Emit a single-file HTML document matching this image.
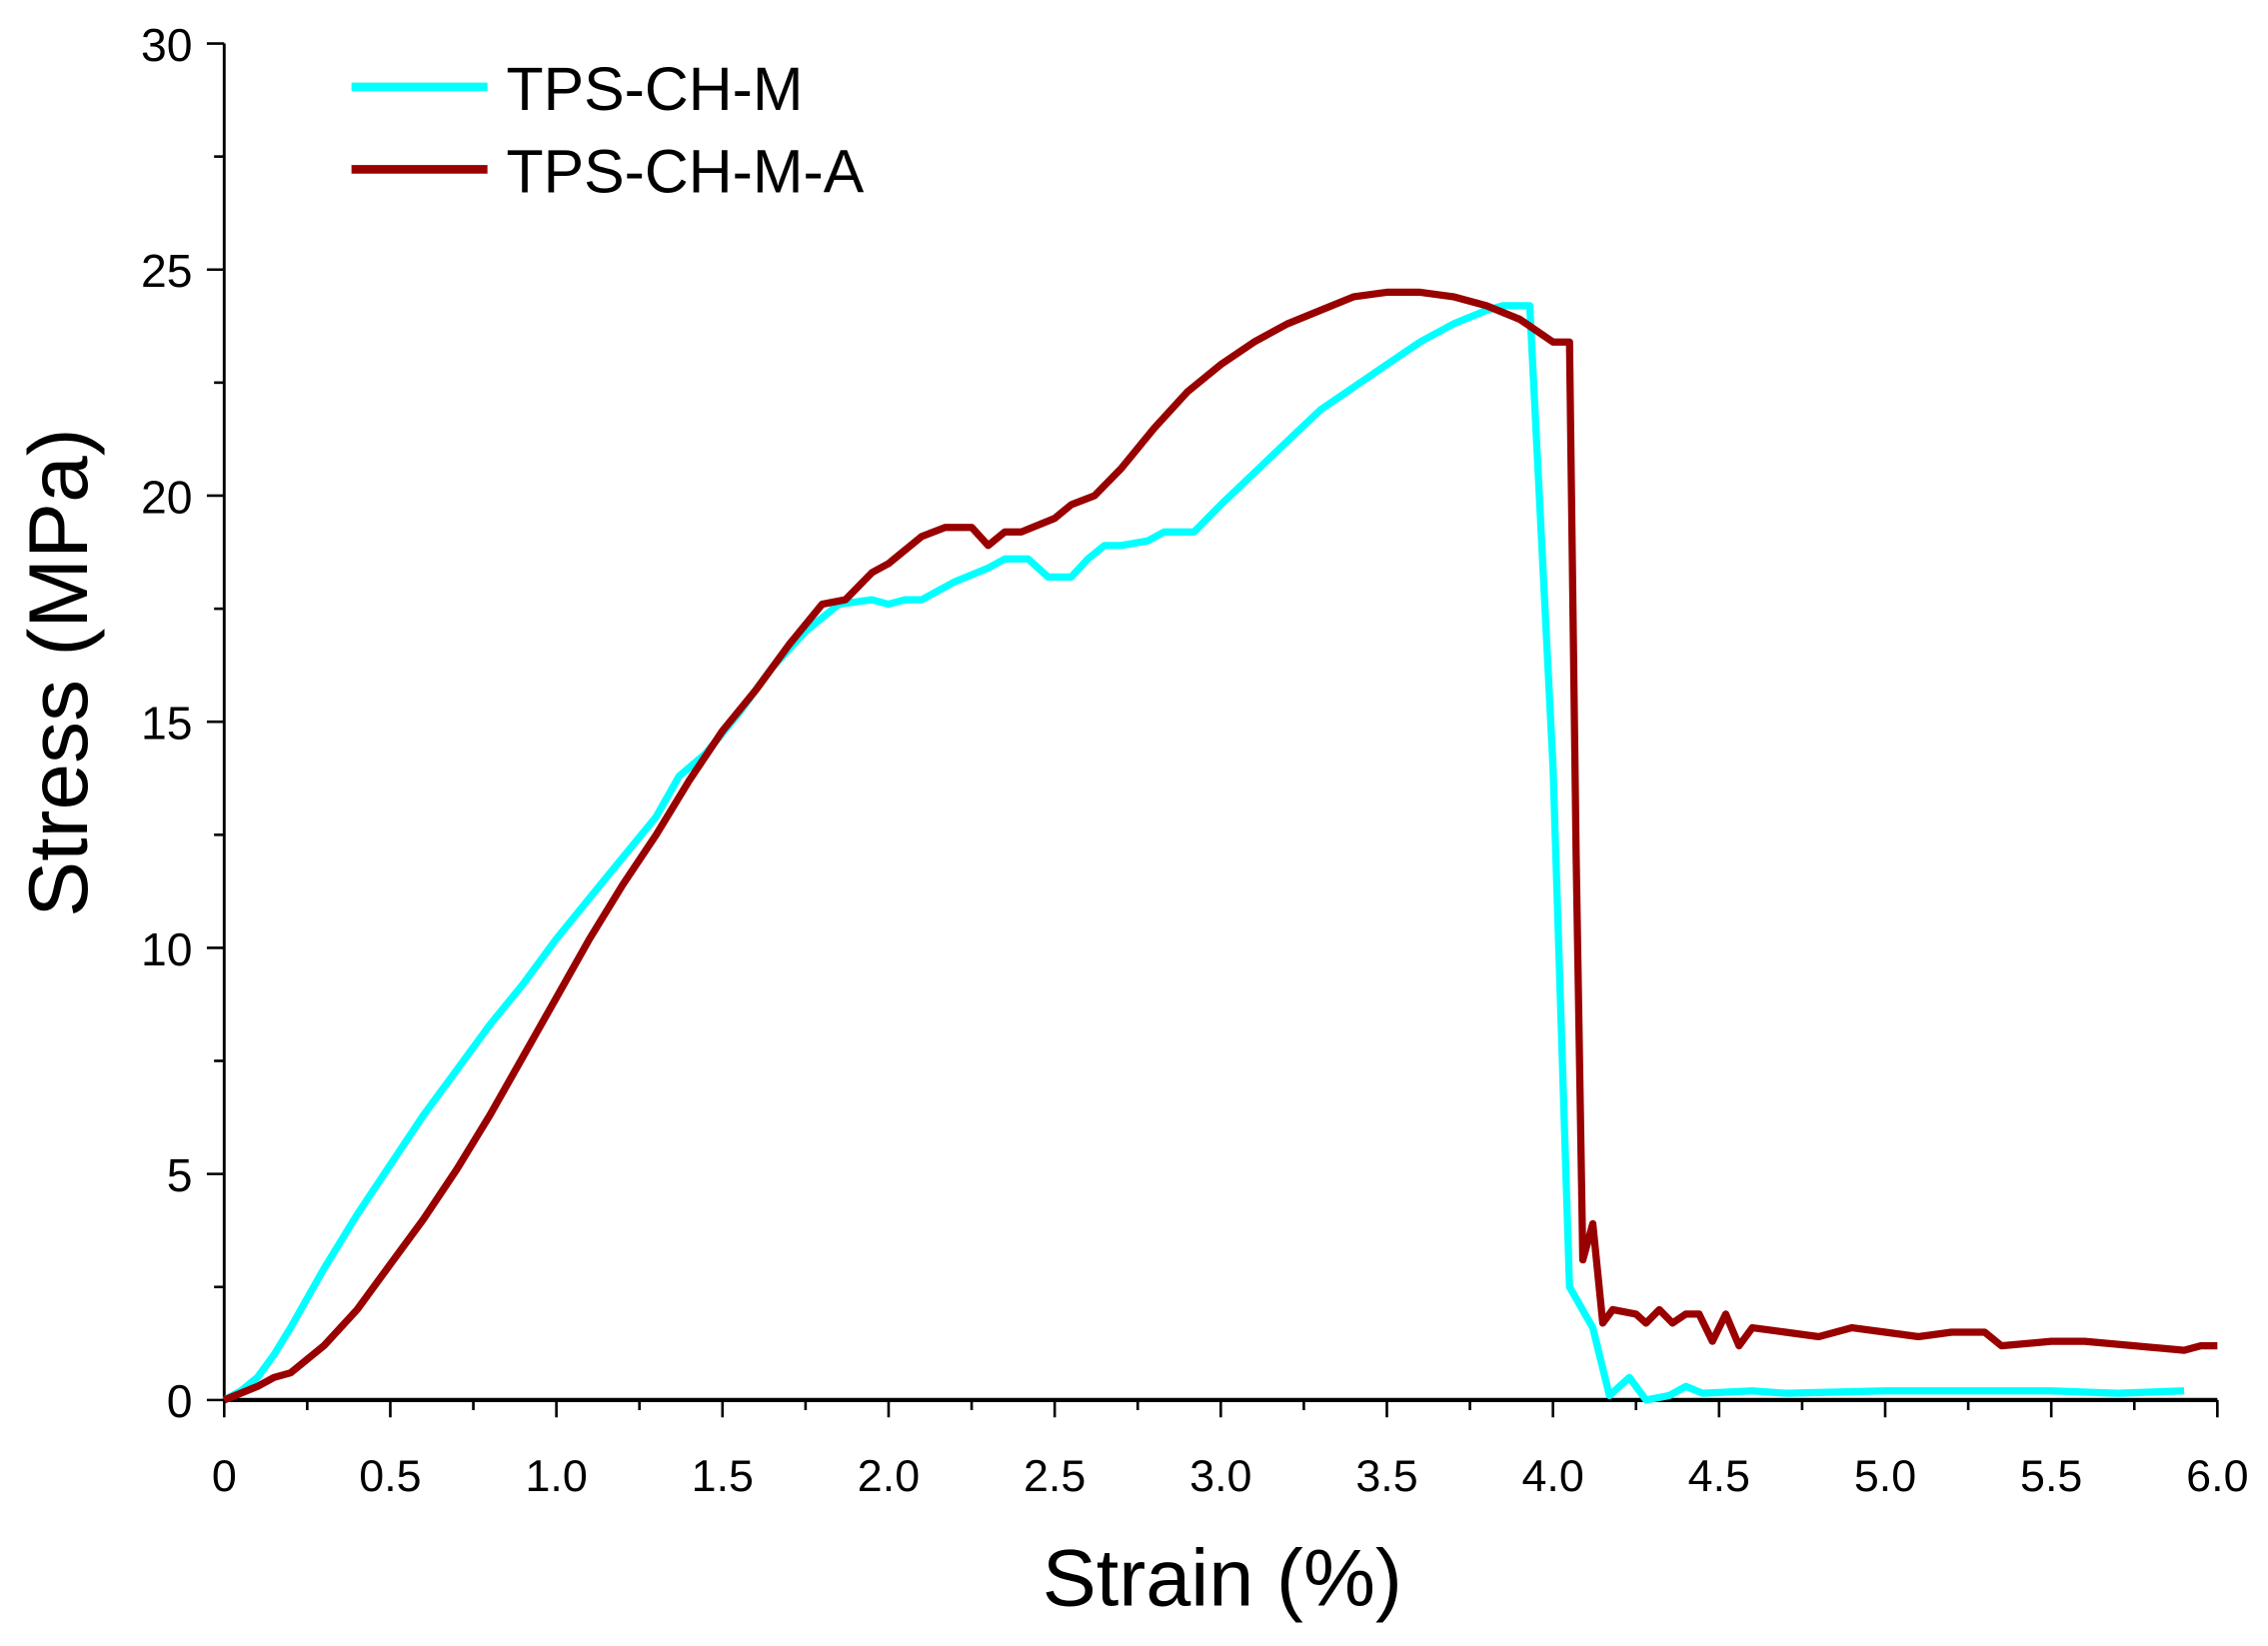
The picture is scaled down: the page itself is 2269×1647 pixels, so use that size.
<!DOCTYPE html>
<html><head><meta charset="utf-8"><style>
html,body{margin:0;padding:0;background:#fff;}
svg{display:block;font-family:"Liberation Sans",Arial,sans-serif;}
</style></head><body>
<svg id="chart" width="2269" height="1647" viewBox="0 0 1568 1138" xmlns="http://www.w3.org/2000/svg">
<g id="axes"></g>
<g id="series"></g>
<g>
  <line x1="243" y1="60" x2="337" y2="60" stroke="#00ffff" stroke-width="6"/>
  <text x="350" y="76" font-size="42">TPS-CH-M</text>
  <line x1="243" y1="117" x2="337" y2="117" stroke="#990000" stroke-width="6"/>
  <text x="350" y="133" font-size="42">TPS-CH-M-A</text>
</g>
<text x="845" y="1110" font-size="56" text-anchor="middle">Strain (%)</text>
<text transform="translate(60,465) rotate(-90)" font-size="58" text-anchor="middle">Stress (MPa)</text>
</svg>
<script>
const xTicks = [0,0.5,1.0,1.5,2.0,2.5,3.0,3.5,4.0,4.5,5.0,5.5,6.0];
const xTickLabels = ["0","0.5","1.0","1.5","2.0","2.5","3.0","3.5","4.0","4.5","5.0","5.5","6.0"];
const yTicks = [0,5,10,15,20,25,30];
const yTickLabels = ["0","5","10","15","20","25","30"];
const strainA = [0,0.05,0.1,0.15,0.2,0.3,0.4,0.5,0.6,0.7,0.8,0.9,1.0,1.1,1.2,1.3,1.37,1.45,1.55,1.65,1.75,1.85,1.95,2.0,2.05,2.1,2.15,2.2,2.3,2.35,2.42,2.48,2.55,2.6,2.65,2.7,2.78,2.83,2.92,3.0,3.1,3.2,3.3,3.4,3.5,3.6,3.7,3.8,3.85,3.93,4.0,4.05,4.12,4.17,4.23,4.28,4.35,4.4,4.45,4.6,4.7,5.0,5.5,5.7,5.9];
const stressA = [0,0.2,0.5,1,1.6,2.9,4.1,5.2,6.3,7.3,8.3,9.2,10.2,11.1,12,12.9,13.8,14.3,15.2,16.2,17,17.6,17.7,17.6,17.7,17.7,17.9,18.1,18.4,18.6,18.6,18.2,18.2,18.6,18.9,18.9,19.0,19.2,19.2,19.8,20.5,21.2,21.9,22.4,22.9,23.4,23.8,24.1,24.2,24.2,14,2.5,1.6,0.1,0.5,0,0.1,0.3,0.15,0.2,0.15,0.2,0.2,0.15,0.2];
const strainB = [0,0.1,0.15,0.2,0.3,0.4,0.5,0.6,0.7,0.8,0.9,1.0,1.1,1.2,1.3,1.4,1.5,1.6,1.7,1.8,1.87,1.95,2.0,2.1,2.17,2.25,2.3,2.35,2.4,2.5,2.55,2.62,2.7,2.8,2.9,3.0,3.1,3.2,3.3,3.4,3.5,3.6,3.7,3.8,3.9,4.0,4.05,4.07,4.09,4.12,4.15,4.18,4.25,4.28,4.32,4.36,4.4,4.44,4.48,4.52,4.56,4.6,4.7,4.8,4.9,5.0,5.1,5.2,5.3,5.35,5.5,5.6,5.75,5.9,5.95,6.0];
const stressB = [0,0.3,0.5,0.6,1.2,2,3,4,5.1,6.3,7.6,8.9,10.2,11.4,12.5,13.7,14.8,15.7,16.7,17.6,17.7,18.3,18.5,19.1,19.3,19.3,18.9,19.2,19.2,19.5,19.8,20,20.6,21.5,22.3,22.9,23.4,23.8,24.1,24.4,24.5,24.5,24.4,24.2,23.9,23.4,23.4,12,3.1,3.9,1.7,2.0,1.9,1.7,2.0,1.7,1.9,1.9,1.3,1.9,1.2,1.6,1.5,1.4,1.6,1.5,1.4,1.5,1.5,1.2,1.3,1.3,1.2,1.1,1.2,1.2];

const X0=155,X1=1533,Y0=968,Y1=30;
const sx=v=>X0+(v-0)/6*(X1-X0);
const sy=v=>Y0-(v-0)/30*(Y0-Y1);
const NS="http://www.w3.org/2000/svg";
function mk(tag,attrs,parent){const e=document.createElementNS(NS,tag);for(const k in attrs)e.setAttribute(k,attrs[k]);parent.appendChild(e);return e;}
const axes=document.getElementById('axes');
let e;
e=mk('line',{x1:X0,y1:Y0,x2:X1,y2:Y0,stroke:'#000','stroke-width':3},axes);


e=mk('line',{x1:X0,y1:Y0+1,x2:X0,y2:Y1,stroke:'#000','stroke-width':2},axes);


for(let i=0;i<=24;i++){
  const v=i*0.25, major=i%2===0;
  e=mk('line',{x1:sx(v),y1:Y0,x2:sx(v),y2:Y0+(major?12:7),stroke:'#000','stroke-width':1.8},axes);
  
  
}
xTicks.forEach((v,i)=>{
  e=mk('text',{x:sx(v),y:Y0+63,'font-size':31,'text-anchor':'middle'},axes);
  e.textContent=xTickLabels[i];
  
  
});
for(let i=0;i<=12;i++){
  const v=i*2.5, major=i%2===0;
  e=mk('line',{x1:X0,y1:sy(v),x2:X0-(major?12:7),y2:sy(v),stroke:'#000','stroke-width':1.8},axes);
  
  
}
yTicks.forEach((v,i)=>{
  e=mk('text',{x:X0-22,y:sy(v)+12,'font-size':32,'text-anchor':'end'},axes);
  e.textContent=yTickLabels[i];
  
  
});
const series=document.getElementById('series');
function pts(xs,ys){return xs.map((x,i)=>sx(x).toFixed(1)+','+sy(ys[i]).toFixed(1)).join(' ');}
e=mk('polyline',{points:pts(strainA,stressA),fill:'none',stroke:'#00ffff','stroke-width':5,'stroke-linejoin':'round'},series);


e=mk('polyline',{points:pts(strainB,stressB),fill:'none',stroke:'#990000','stroke-width':5,'stroke-linejoin':'round'},series);


</script>
</body></html>
